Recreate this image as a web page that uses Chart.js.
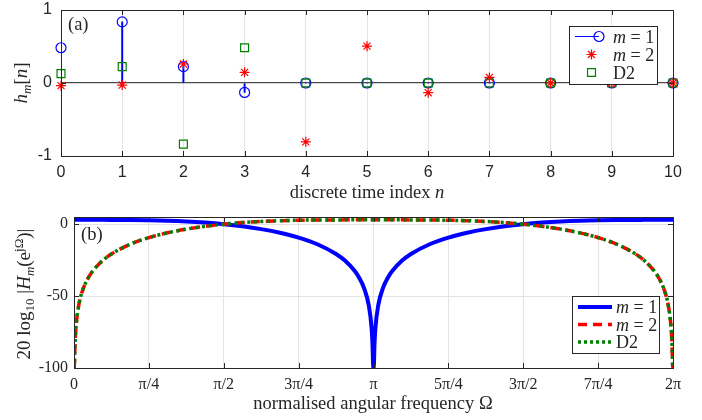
<!DOCTYPE html>
<html><head><meta charset="utf-8">
<script src="https://cdn.jsdelivr.net/npm/chart.js@4/dist/chart.umd.min.js"></script>
<style>html,body{margin:0;padding:0;background:#fff;}#wrap{position:relative;width:702px;height:420px;}
#p1{position:absolute;left:0;top:0;width:702px;height:200px;}#p2{position:absolute;left:0;top:200px;width:702px;height:220px;}</style>
</head><body><div id="wrap"><div id="p1"><canvas id="c1"></canvas></div><div id="p2"><canvas id="c2"></canvas></div></div>
<script>
// ---- top panel data: impulse responses
const nIndex = [0,1,2,3,4,5,6,7,8,9,10];
const hM1 = [0.483, 0.837, 0.224, -0.129, 0, 0, 0, 0, 0, 0, 0];
const hM2 = [-0.036, -0.028, 0.26, 0.146, -0.806, 0.505, -0.133, 0.077, 0, 0, 0];
const hD2 = [0.129, 0.224, -0.837, 0.483, 0, 0, 0, 0, 0, 0, 0];
const topYTicks = [-1, 0, 1];
const topYTickLabels = ['-1', '0', '1'];

// ---- bottom panel data: magnitude responses (dB), Omega in units of pi
const omega = [0,0.00159,0.00318,0.00637,0.01592,0.03183,0.04775,0.0625,0.09549,0.125,0.1875,0.25,0.3125,0.375,0.4375,0.5,0.5625,0.625,0.6875,0.75,0.8125,0.875,0.90451,0.9375,0.95225,0.96817,0.98408,0.99363,0.99682,0.99841,1,
 1.00159,1.00318,1.00637,1.01592,1.03183,1.04775,1.0625,1.09549,1.125,1.1875,1.25,1.3125,1.375,1.4375,1.5,1.5625,1.625,1.6875,1.75,1.8125,1.875,1.90451,1.9375,1.95225,1.96817,1.98408,1.99363,1.99682,1.99841,2];
const magM1 = [3.010,3.010,3.010,3.010,3.010,3.010,3.010,3.009,3.004,2.992,2.922,2.751,2.424,1.892,1.102,0,-1.481,-3.429,-5.980,-9.351,-13.957,-20.721,-25.31,-32.59,-37.25,-44.27,-56.30,-72.22,-84.26,-96.30,-100,
 -96.30,-84.26,-72.22,-56.30,-44.27,-37.25,-32.59,-25.31,-20.721,-13.957,-9.351,-5.980,-3.429,-1.481,0,1.102,1.892,2.424,2.751,2.922,2.992,3.004,3.009,3.010,3.010,3.010,3.010,3.010,3.010,3.010];
const magM2 = [-100,-96.30,-84.26,-72.22,-56.30,-44.27,-37.25,-32.59,-25.31,-20.721,-13.957,-9.351,-5.980,-3.429,-1.481,0,1.102,1.892,2.424,2.751,2.922,2.992,3.004,3.009,3.010,3.010,3.010,3.010,3.010,3.010,3.010,
 3.010,3.010,3.010,3.010,3.010,3.010,3.009,3.004,2.992,2.922,2.751,2.424,1.892,1.102,0,-1.481,-3.429,-5.980,-9.351,-13.957,-20.721,-25.31,-32.59,-37.25,-44.27,-56.30,-72.22,-84.26,-96.30,-100];
const magD2 = [-100,-96.30,-84.26,-72.22,-56.30,-44.27,-37.25,-32.59,-25.31,-20.721,-13.957,-9.351,-5.980,-3.429,-1.481,0,1.102,1.892,2.424,2.751,2.922,2.992,3.004,3.009,3.010,3.010,3.010,3.010,3.010,3.010,3.010,
 3.010,3.010,3.010,3.010,3.010,3.010,3.009,3.004,2.992,2.922,2.751,2.424,1.892,1.102,0,-1.481,-3.429,-5.980,-9.351,-13.957,-20.721,-25.31,-32.59,-37.25,-44.27,-56.30,-72.22,-84.26,-96.30,-100];
const freqTickValues = [0,0.25,0.5,0.75,1,1.25,1.5,1.75,2];
const freqTickLabels = ['0','π/4','π/2','3π/4','π','5π/4','3π/2','7π/4','2π'];
const dbTickValues = [-100,-50,0];
const dbTickLabels = ['-100','-50','0'];

const AX = '#262626', GRID = '#e4e4e4';
const SERIF = '"Liberation Serif", "DejaVu Serif", serif';
const SANS = '"Liberation Sans", Arial, sans-serif';

function rich(ctx, segs, x, y, angle, align) {
  ctx.save(); ctx.translate(x, y); ctx.rotate(angle || 0);
  let w = 0; segs.forEach(s => { ctx.font = s.f; w += ctx.measureText(s.t).width; });
  let cx = align === 'left' ? 0 : -w / 2;
  ctx.textAlign = 'left'; ctx.textBaseline = 'alphabetic'; ctx.fillStyle = AX;
  segs.forEach(s => { ctx.font = s.f; ctx.fillText(s.t, cx, s.dy || 0); cx += ctx.measureText(s.t).width; });
  ctx.restore();
}
function frameAndTicks(chart, xVals, yVals, len) {
  const {ctx, chartArea: a, scales: {x, y}} = chart;
  ctx.save(); ctx.strokeStyle = AX; ctx.lineWidth = 1;
  ctx.beginPath();
  xVals.forEach(v => { const px = Math.round(x.getPixelForValue(v)) + 0.5;
    ctx.moveTo(px, a.bottom); ctx.lineTo(px, a.bottom - len); ctx.moveTo(px, a.top); ctx.lineTo(px, a.top + len); });
  yVals.forEach(v => { const py = Math.round(y.getPixelForValue(v)) + 0.5;
    ctx.moveTo(a.left, py); ctx.lineTo(a.left + len, py); ctx.moveTo(a.right, py); ctx.lineTo(a.right - len, py); });
  ctx.stroke();
  ctx.strokeRect(Math.round(a.left) + 0.5, Math.round(a.top) + 0.5, Math.round(a.right - a.left), Math.round(a.bottom - a.top));
  ctx.restore();
}
function mathLabel(ctx, x, y, num) {
  rich(ctx, [{t:'m', f:'italic 18px ' + SERIF}, {t:' = ' + num, f:'18px ' + SERIF}], x, y, 0, 'left');
}

// ---------------- top chart ----------------
const pts = arr => nIndex.map((n, i) => ({x: n, y: arr[i]}));
const topDecor = {
  id: 'topDecor',
  afterDraw(chart) {
    const ctx = chart.ctx, ys = chart.scales.y, a = chart.chartArea;
    frameAndTicks(chart, nIndex, topYTicks, 5);
    // y tick labels
    ctx.save(); ctx.font = '16px ' + SANS; ctx.fillStyle = AX; ctx.textAlign = 'right'; ctx.textBaseline = 'middle';
    topYTicks.forEach((v, i) => ctx.fillText(topYTickLabels[i], a.left - 9, ys.getPixelForValue(v)));
    ctx.restore();
    rich(ctx, [{t:'discrete time index ', f:'18.5px ' + SERIF}, {t:'n', f:'italic 18.5px ' + SERIF}], 367, 198, 0);
    rich(ctx, [{t:'h', f:'italic 19px ' + SERIF}, {t:'m', f:'italic 13px ' + SERIF, dy:4}, {t:'[', f:'19px ' + SERIF}, {t:'n', f:'italic 19px ' + SERIF}, {t:']', f:'19px ' + SERIF}], 27, 83, -Math.PI / 2);
    rich(ctx, [{t:'(a)', f:'18.5px ' + SERIF}], 68, 30, 0, 'left');
    // legend
    ctx.save();
    ctx.fillStyle = '#fff'; ctx.fillRect(569.5, 26.5, 88, 58);
    ctx.strokeStyle = AX; ctx.lineWidth = 1; ctx.strokeRect(569.5, 26.5, 88, 58);
    ctx.strokeStyle = '#0000ff'; ctx.lineWidth = 1;
    ctx.beginPath(); ctx.moveTo(575, 36.5); ctx.lineTo(599, 36.5); ctx.stroke();
    ctx.fillStyle = 'rgba(0,0,0,0)';
    ctx.lineWidth = 1.2; ctx.strokeStyle = '#0000ff';
    Chart.helpers.drawPoint(ctx, {pointStyle:'circle', radius:5, rotation:0, borderWidth:1.2}, 599, 36.5);
    ctx.strokeStyle = '#ff0000';
    Chart.helpers.drawPoint(ctx, {pointStyle:'star', radius:5, rotation:0, borderWidth:1.2}, 591.5, 54.5);
    ctx.strokeStyle = '#008000';
    Chart.helpers.drawPoint(ctx, {pointStyle:'rect', radius:5.6, rotation:0, borderWidth:1.2}, 591.5, 72.5);
    ctx.restore();
    mathLabel(ctx, 613, 42.5, '1');
    mathLabel(ctx, 613, 60.5, '2');
    rich(ctx, [{t:'D2', f:'18px ' + SERIF}], 613, 78.5, 0, 'left');
  }
};
new Chart(document.getElementById('c1'), {
  type: 'scatter',
  data: { datasets: [
    { type:'bar', data: pts(hM1), backgroundColor:'#0000ff', borderWidth:0, barThickness:1.3, grouped:false, order:3 },
    { data: pts(hM1), pointStyle:'circle', pointRadius:5, borderColor:'#0000ff', backgroundColor:'rgba(0,0,0,0)', pointBorderWidth:1.2, clip:false, order:2 },
    { data: pts(hD2), pointStyle:'rect', pointRadius:5.6, borderColor:'#008000', backgroundColor:'rgba(0,0,0,0)', pointBorderWidth:1.2, clip:false, order:1 },
    { data: pts(hM2), pointStyle:'star', pointRadius:5, borderColor:'#ff0000', backgroundColor:'rgba(0,0,0,0)', pointBorderWidth:1.2, clip:false, order:0 }
  ]},
  options: {
    responsive:true, maintainAspectRatio:false, animation:false, devicePixelRatio:1,
    layout: { padding: { top:10, right:29, left:0, bottom:0 } },
    plugins: { legend:{display:false}, tooltip:{enabled:false} },
    events: [],
    scales: {
      x: { type:'linear', min:0, max:10, offset:false,
        afterBuildTicks: s => { s.ticks = nIndex.map(v => ({value:v})); },
        ticks: { color:AX, font:{family:SANS, size:16}, padding:7, maxRotation:0 },
        grid: { color:GRID, drawTicks:false, offset:false }, border:{display:false},
        afterFit: s => { s.height = 44; } },
      y: { min:-1, max:1,
        afterBuildTicks: s => { s.ticks = topYTicks.map(v => ({value:v})); },
        ticks: { display:false },
        grid: { drawTicks:false, lineWidth: c => (c.tick && c.tick.value === 0) ? 1.3 : 0, color: c => (c.tick && c.tick.value === 0) ? '#4a4a4a' : 'rgba(0,0,0,0)' },
        border:{display:false},
        afterFit: s => { s.width = 61; } }
    }
  },
  plugins: [topDecor]
});

// ---------------- bottom chart ----------------
const line = arr => omega.map((w, i) => ({x: w, y: arr[i]}));
const botDecor = {
  id: 'botDecor',
  afterDraw(chart) {
    const ctx = chart.ctx;
    frameAndTicks(chart, freqTickValues, dbTickValues, 5);
    rich(ctx, [{t:'normalised angular frequency Ω', f:'18.5px ' + SERIF}], 373, 209, 0);
    rich(ctx, [{t:'20 log', f:'19px ' + SERIF}, {t:'10', f:'13px ' + SERIF, dy:4}, {t:' |', f:'19px ' + SERIF},
      {t:'H', f:'italic 19px ' + SERIF}, {t:'m', f:'italic 13px ' + SERIF, dy:4}, {t:'(e', f:'19px ' + SERIF},
      {t:'jΩ', f:'13px ' + SERIF, dy:-7}, {t:')|', f:'19px ' + SERIF}], 30, 94, -Math.PI / 2);
    rich(ctx, [{t:'(b)', f:'18.5px ' + SERIF}], 81, 40, 0, 'left');
    // legend
    ctx.save();
    ctx.fillStyle = '#fff'; ctx.fillRect(572, 96, 87, 57);
    ctx.strokeStyle = AX; ctx.lineWidth = 1; ctx.strokeRect(572.5, 96.5, 87, 57);
    ctx.lineWidth = 4; ctx.strokeStyle = '#0000ff';
    ctx.beginPath(); ctx.moveTo(578, 107); ctx.lineTo(612, 107); ctx.stroke();
    ctx.lineWidth = 3.5; ctx.strokeStyle = '#ff0000'; ctx.setLineDash([9, 6]);
    ctx.beginPath(); ctx.moveTo(578, 124.5); ctx.lineTo(612, 124.5); ctx.stroke();
    ctx.strokeStyle = '#008000'; ctx.setLineDash([3, 3]);
    ctx.beginPath(); ctx.moveTo(578, 142); ctx.lineTo(612, 142); ctx.stroke();
    ctx.restore();
    mathLabel(ctx, 616, 113, '1');
    mathLabel(ctx, 616, 130.5, '2');
    rich(ctx, [{t:'D2', f:'18px ' + SERIF}], 616, 148, 0, 'left');
  }
};
new Chart(document.getElementById('c2'), {
  type: 'line',
  data: { datasets: [
    { data: line(magM1), borderColor:'#0000ff', borderWidth:4, pointRadius:0, cubicInterpolationMode:'monotone', order:2 },
    { data: line(magM2), borderColor:'#ff0000', borderWidth:3.5, borderDash:[9,6], pointRadius:0, cubicInterpolationMode:'monotone', order:1 },
    { data: line(magD2), borderColor:'#008000', borderWidth:3.5, borderDash:[3,3.5], pointRadius:0, cubicInterpolationMode:'monotone', order:0 }
  ]},
  options: {
    responsive:true, maintainAspectRatio:false, animation:false, devicePixelRatio:1,
    layout: { padding: { top:17, right:29, left:0, bottom:0 } },
    plugins: { legend:{display:false}, tooltip:{enabled:false} },
    events: [],
    scales: {
      x: { type:'linear', min:0, max:2,
        afterBuildTicks: s => { s.ticks = freqTickValues.map(v => ({value:v})); },
        ticks: { color:AX, font:{family:SERIF, size:16}, padding:7, maxRotation:0,
          callback: (v) => { const i = freqTickValues.indexOf(v); return i >= 0 ? freqTickLabels[i] : ''; } },
        grid: { color:GRID, drawTicks:false }, border:{display:false},
        afterFit: s => { s.height = 52; } },
      y: { min:-100, max:5,
        afterBuildTicks: s => { s.ticks = dbTickValues.map(v => ({value:v})); },
        ticks: { color:AX, font:{family:SERIF, size:16}, padding:6,
          callback: (v) => { const i = dbTickValues.indexOf(v); return i >= 0 ? dbTickLabels[i] : ''; } },
        grid: { color:GRID, drawTicks:false }, border:{display:false},
        afterFit: s => { s.width = 74; } }
    }
  },
  plugins: [botDecor]
});
</script></body></html>
